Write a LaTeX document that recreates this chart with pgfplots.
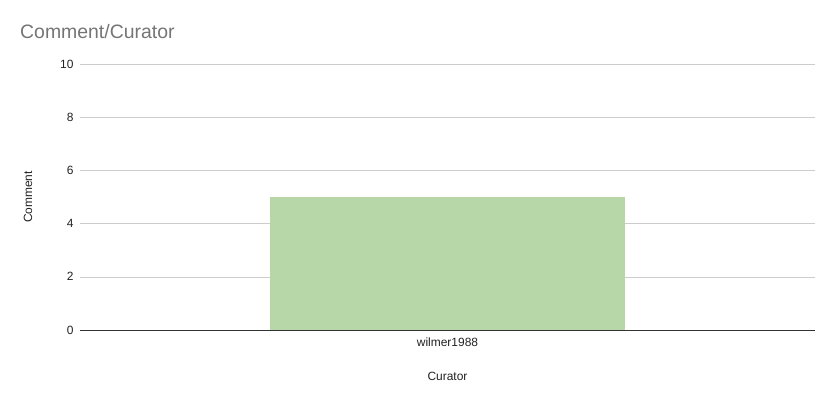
\documentclass[border=0pt]{standalone}
\usepackage{pgfplots}
\pgfplotsset{compat=1.18}
\usepackage{fontspec}
\setmainfont{Liberation Sans}
\definecolor{barcol}{HTML}{B7D7A8}
\definecolor{gridcol}{HTML}{CCCCCC}
\definecolor{titlecol}{HTML}{757575}
\definecolor{labcol}{HTML}{222222}
\begin{document}
\begin{tikzpicture}[x=1bp,y=1bp]
  \path (0,0) rectangle (836,403);
  \node[anchor=west,text=titlecol,font=\fontsize{19.5}{22}\selectfont,inner sep=0pt] at (20,371) {Comment/Curator};
  \begin{axis}[
    at={(80bp,73bp)},
    anchor=south west,
    scale only axis,
    width=735bp,
    height=266bp,
    ybar,
    bar width=355bp,
    xmin=-0.5, xmax=0.5,
    ymin=0, ymax=10,
    ytick={0,2,...,10},
    xtick={0},
    xticklabels={wilmer1988},
    ymajorgrids,
    grid style={gridcol, line width=0.6pt},
    axis line style={draw=none},
    major tick length=0pt,
    tick label style={font=\fontsize{12}{14}\selectfont, text=labcol},
    yticklabel style={xshift=-3bp},
    xticklabel style={yshift=-4bp},
    /pgf/number format/assume math mode=true,
    xlabel={Curator},
    ylabel={Comment},
    label style={font=\fontsize{12}{14}\selectfont, text=labcol},
    xlabel style={at={(axis description cs:0.5,0)}, anchor=center, yshift=-46bp},
    ylabel style={at={(axis description cs:0,0.5)}, anchor=center, yshift=52bp},
    clip=false,
  ]
  \addplot[fill=barcol, draw=none] coordinates {(0,5)};
  \draw[black!80, line width=0.8pt] (axis cs:-0.5,0) -- (axis cs:0.5,0);
  \end{axis}
\end{tikzpicture}
\end{document}
